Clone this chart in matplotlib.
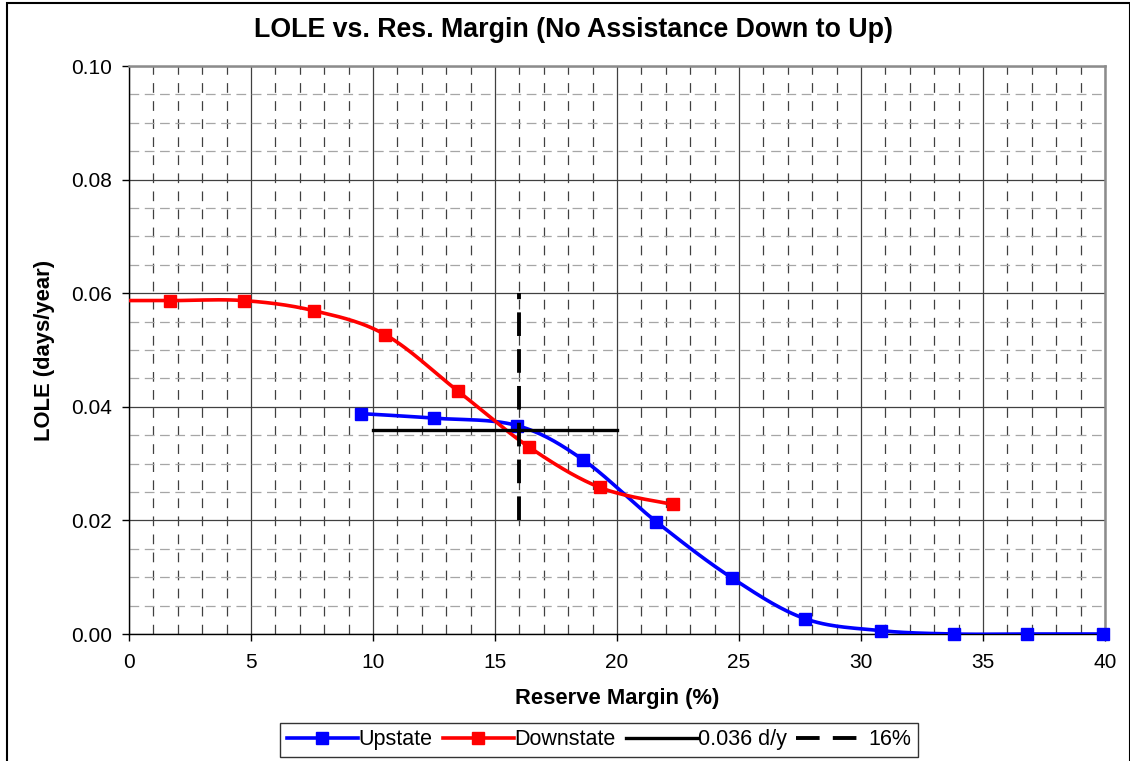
import numpy as np
import matplotlib
matplotlib.use("Agg")
import matplotlib.pyplot as plt
from matplotlib.lines import Line2D
from matplotlib.patches import Rectangle
from matplotlib.ticker import MultipleLocator, FormatStrFormatter

plt.rcParams['font.family'] = ['Liberation Sans', 'DejaVu Sans']
plt.rcParams['lines.scale_dashes'] = False

# ---- data ----
up_x = [9.5, 12.5, 15.9, 18.6, 21.6, 24.7, 27.7, 30.8, 33.8, 36.8, 39.9]
up_y = [0.0388, 0.0380, 0.0367, 0.0307, 0.0198, 0.0099, 0.0027, 0.0006, 0.0000, 0.0000, 0.0000]
# first Downstate point lies left of the axis (line visible, marker clipped)
down_x = [-1.3, 1.7, 4.7, 7.6, 10.5, 13.5, 16.4, 19.3, 22.3]
down_y = [0.0587, 0.0587, 0.0587, 0.0569, 0.0527, 0.0427, 0.0329, 0.0258, 0.0228]
target_x = [10, 20]
target_y = [0.036, 0.036]
rm_x = [16, 16]
rm_y = [0.02, 0.06]
labels = ['Upstate', 'Downstate', '0.036 d/y', '16%']


def smooth(xs, ys, n=30):
    """Excel-like smoothed line via Catmull-Rom Bezier segments."""
    P = np.column_stack([xs, ys]).astype(float)
    m = len(P)
    out = []
    for i in range(m - 1):
        p0 = P[i - 1] if i > 0 else P[i]
        p1 = P[i]
        p2 = P[i + 1]
        p3 = P[i + 2] if i + 2 < m else P[i + 1]
        c1 = p1 + (p2 - p0) / 6.0
        c2 = p2 - (p3 - p1) / 6.0
        t = np.linspace(0, 1, n)[:, None]
        seg = ((1 - t) ** 3) * p1 + 3 * ((1 - t) ** 2) * t * c1 + 3 * (1 - t) * t ** 2 * c2 + t ** 3 * p2
        if i > 0:
            seg = seg[1:]
        out.append(seg)
    out = np.vstack(out)
    return out[:, 0], out[:, 1]


W, H = 1130, 761
fig = plt.figure(figsize=(W / 100, H / 100), dpi=100)
L, R, T, B = 129, 1105, 66, 634
ax = fig.add_axes([L / W, 1 - B / H, (R - L) / W, (B - T) / H])

ax.set_xlim(0, 40)
ax.set_ylim(0, 0.10)
ax.xaxis.set_major_locator(MultipleLocator(5))
ax.xaxis.set_minor_locator(MultipleLocator(1))
ax.yaxis.set_major_locator(MultipleLocator(0.02))
ax.yaxis.set_minor_locator(MultipleLocator(0.005))
ax.yaxis.set_major_formatter(FormatStrFormatter('%.2f'))

ax.grid(which='major', color='#404040', linewidth=0.9, linestyle='-', zorder=0)
ax.xaxis.grid(which='minor', color='#404040', linewidth=0.9, linestyle=(0, (7, 6)))
ax.yaxis.grid(which='minor', color='#a6a6a6', linewidth=0.9, linestyle=(0, (7, 4)))
ax.set_axisbelow(True)

ax.tick_params(which='major', direction='out', length=5, width=1, labelsize=15, color='black')
ax.tick_params(axis='x', which='major', pad=9)
ax.tick_params(axis='y', which='major', pad=7)
ax.tick_params(which='minor', length=0)

for s in ['left', 'bottom']:
    ax.spines[s].set_color('black')
    ax.spines[s].set_linewidth(1.0)
for s in ['top', 'right']:
    ax.spines[s].set_color('#8c8c8c')
    ax.spines[s].set_linewidth(1.8)

LW = 2.6
MS = 8.5
# series
sx, sy = smooth(up_x, up_y)
ax.plot(sx, sy, color='#0000ff', lw=LW, zorder=3, solid_capstyle='butt')
ax.plot(up_x, up_y, ls='none', marker='s', ms=MS, color='#0000ff', zorder=3, clip_on=False)
sx, sy = smooth(down_x, down_y)
ax.plot(sx, sy, color='#ff0000', lw=LW, zorder=4, solid_capstyle='butt')
ax.plot(down_x, down_y, ls='none', marker='s', ms=MS, color='#ff0000', zorder=4)
ax.plot(target_x, target_y, color='black', lw=2.4, zorder=5)
ax.plot(rm_x, rm_y, color='black', lw=2.8, linestyle=(0, (17, 9.5)), zorder=6, dash_capstyle='butt')

fig.text(573 / W, 1 - 30 / H, 'LOLE vs. Res. Margin (No Assistance Down to Up)', fontsize=19.3,
         fontweight='bold', ha='center', va='center')
ax.set_xlabel('Reserve Margin (%)', fontsize=15.8, fontweight='bold', labelpad=11)
ax.set_ylabel('LOLE (days/year)', fontsize=15.8, fontweight='bold', labelpad=12)

handles = [
    Line2D([], [], color='#0000ff', lw=LW, marker='s', ms=MS),
    Line2D([], [], color='#ff0000', lw=LW, marker='s', ms=MS),
    Line2D([], [], color='black', lw=2.4),
    Line2D([], [], color='black', lw=2.8, linestyle=(0, (17, 9.5)), dash_capstyle='butt'),
]
leg = fig.legend(handles, labels, loc='upper center', ncol=4,
                 bbox_to_anchor=(599 / W, 1 - 723 / H), fontsize=15.5,
                 frameon=True, fancybox=False, edgecolor='black',
                 handlelength=3.3, handletextpad=0.05, columnspacing=0.45,
                 numpoints=1, borderpad=0.3, borderaxespad=0)
leg.get_frame().set_linewidth(1.0)

# outer chart border
fig.patches.append(Rectangle((7 / W, -0.02), (W - 0.5) / W - 7 / W, 1 - 3 / H + 0.02,
                             transform=fig.transFigure, fill=False,
                             edgecolor='black', linewidth=1.5, zorder=10))

fig.savefig('out.png', dpi=100)
